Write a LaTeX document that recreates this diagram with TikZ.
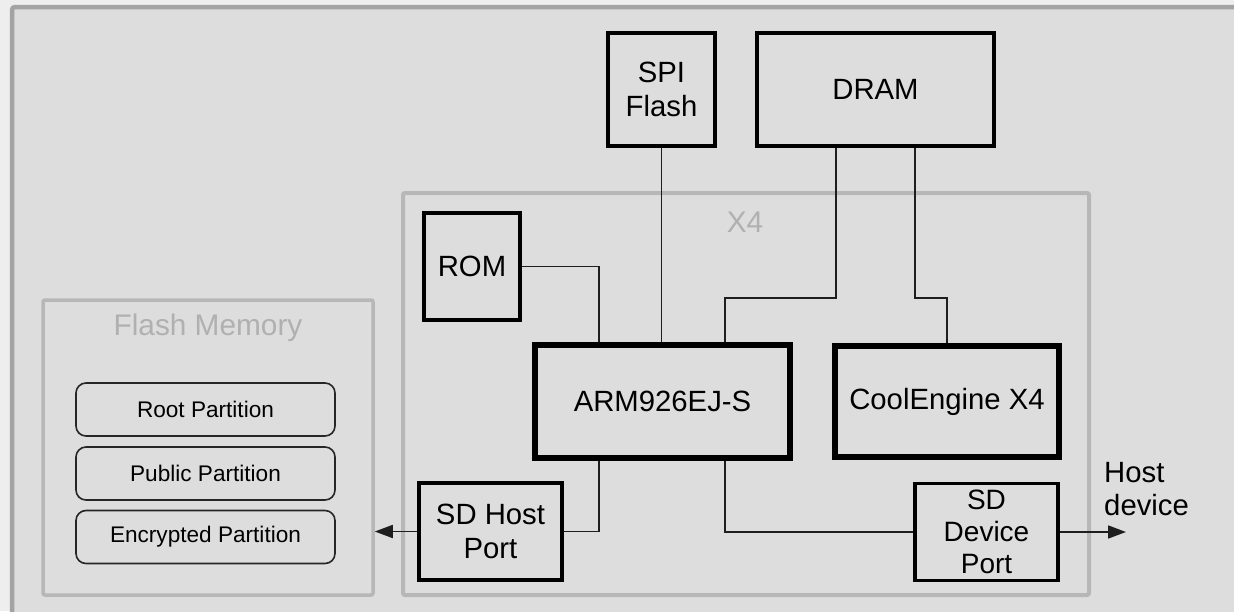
\documentclass[tikz,border=0pt]{standalone}
\usepackage{fontspec}
\setmainfont{Liberation Sans}
\usetikzlibrary{arrows.meta,calc}
\definecolor{bg}{HTML}{DDDDDD}
\definecolor{outside}{HTML}{EEEEEE}
\definecolor{frame}{HTML}{A3A3A3}
\definecolor{cont}{HTML}{B7B7B7}
\definecolor{conttext}{HTML}{B0B0B0}
\definecolor{wire}{HTML}{1E1E1E}
\tikzset{
  blk/.style={draw=black, line width=3.8pt, inner sep=0pt, align=center,
    font=\fontsize{29.3}{34}\selectfont},
  bigblk/.style={blk, line width=6pt},
  part/.style={draw=black!85, line width=1.6pt, rounded corners=10pt, inner sep=0pt,
    minimum width=259pt, minimum height=53pt, font=\fontsize{22.6}{26}\selectfont},
  container/.style={draw=cont, line width=4pt, rounded corners=2pt, inner sep=0pt},
  conn/.style={draw=wire, line width=1.7pt},
  arr/.style={conn, -{Triangle[length=18pt,width=13pt]}},
  conttitle/.style={text=conttext, font=\fontsize{29.8}{34}\selectfont},
}
\begin{document}
\begin{tikzpicture}[x=1pt,y=-1pt]
\useasboundingbox (0,0) rectangle (1234,611);
\fill[outside] (0,0) rectangle (1234,611);
\begin{scope}
\clip (0,0) rectangle (1234,611);
\draw[frame, fill=bg, line width=4.5pt, rounded corners=3pt] (12,7) rectangle (1270,650);
\end{scope}

% containers
\node[container, minimum width=686pt, minimum height=402pt] (x4) at (746,394) {};
\node[conttitle] (x4t) at (745,222) {X4};
\node[container, line width=3.5pt, minimum width=330pt, minimum height=295pt] (flash) at (208,447.5) {};
\node[conttitle] (flasht) at (208,328) {Flash Memory};

% partitions
\node[part] (root) at (205.5,409.5) {Root Partition};
\node[part] (pub) at (205.5,473.5) {Public Partition};
\node[part] (enc) at (205.5,537) {Encrypted Partition};

% blocks
\node[blk, minimum width=107pt, minimum height=113pt] (spi) at (661.5,89.5) {SPI\\Flash};
\node[blk, minimum width=237pt, minimum height=113pt] (dram) at (875.5,89.5) {DRAM};
\node[blk, minimum width=96pt, minimum height=107pt] (rom) at (472,266.5) {ROM};
\node[bigblk, minimum width=255pt, minimum height=113pt] (arm) at (662.5,401.5) {ARM926EJ-S};
\node[bigblk, minimum width=224pt, minimum height=111pt] (cool) at (947,401.5) {CoolEngine X4};
\node[blk, minimum width=143pt, minimum height=97pt] (sdh) at (490.5,531.5) {SD Host\\Port};
\node[blk, minimum width=143pt, minimum height=97pt, font=\fontsize{28}{32}\selectfont] (sdd) at (986.5,532) {SD\\Device\\Port};
\node[anchor=west, align=left, inner sep=0pt, font=\fontsize{29.3}{33}\selectfont] (host) at (1104,489) {Host\\device};

% tap coordinates
\coordinate (tRom) at (599,0);
\coordinate (tDL) at (836,0);
\coordinate (tAL) at (725,0);
\coordinate (tDR) at (915,0);
\coordinate (yBus) at (0,298);
\coordinate (tHost) at (599,0);
\coordinate (tDev) at (725,0);
\coordinate (tEnd) at (1126,0);

% connectors
\draw[conn] (rom.east) -| (arm.north -| tRom);
\draw[conn] (spi.south) -- (arm.north -| spi.south);
\draw[conn] (dram.south -| tDL) -- (tDL |- yBus) -- (tAL |- yBus) -- (arm.north -| tAL);
\draw[conn] (dram.south -| tDR) -- (tDR |- yBus) -- (cool.north |- yBus) -- (cool.north);
\draw[conn] (arm.south -| tHost) |- (sdh.east);
\draw[conn] (arm.south -| tDev) |- (sdd.west);
\draw[arr] (sdh.west) -- (sdh.west -| flash.east);
\draw[arr] (sdd.east) -- (sdd.east -| tEnd);
\end{tikzpicture}
\end{document}
